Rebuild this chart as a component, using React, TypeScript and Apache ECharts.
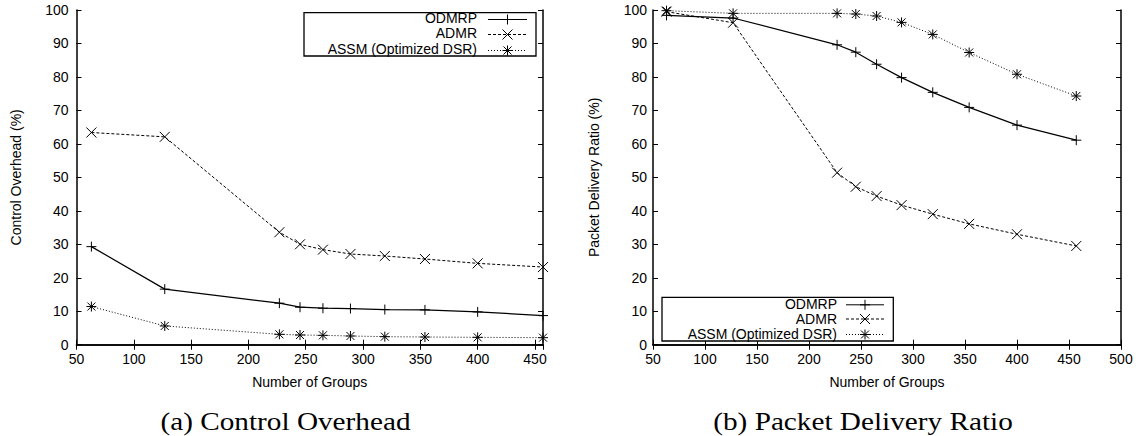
import React, { useEffect, useRef } from "react";
import * as echarts from "echarts";

const groups = [63, 127, 227, 245, 265, 289, 319, 354, 400, 457];
const seriesNames = ["ODMRP", "ADMR", "ASSM (Optimized DSR)"];

const odmrpOverhead = [29.3, 16.6, 12.4, 11.2, 10.9, 10.8, 10.5, 10.4, 9.8, 8.7];
const admrOverhead = [63.4, 62.1, 33.6, 30.0, 28.4, 27.1, 26.5, 25.6, 24.3, 23.2];
const assmOverhead = [11.4, 5.6, 3.1, 2.9, 2.8, 2.6, 2.4, 2.3, 2.2, 2.1];

const odmrpPdr = [98.4, 97.6, 89.6, 87.4, 83.8, 79.8, 75.4, 70.9, 65.6, 61.1];
const admrPdr = [99.5, 96.2, 51.4, 47.2, 44.4, 41.7, 39.0, 36.1, 33.0, 29.5];
const assmPdr = [99.8, 99.0, 99.0, 98.8, 98.2, 96.3, 92.7, 87.3, 80.8, 74.3];

const yTitles = ["Control Overhead (%)", "Packet Delivery Ratio (%)"];
const xTitle = "Number of Groups";
const captions = ["(a) Control Overhead", "(b) Packet Delivery Ratio"];

const SANS = "'Liberation Sans', Arial, Helvetica, sans-serif";
const SERIF = "'Liberation Serif', 'Times New Roman', serif";

const PLUS = "path://M0,5L10,5M5,0L5,10";
const CROSS = "path://M0,0L10,10M10,0L0,10";
const STAR = "path://M0,5L10,5M5,0L5,10M1,1L9,9M9,1L1,9";
const symbols = [PLUS, CROSS, STAR];
const lineTypes: any[] = ["solid", [3, 2], [1, 2]];

function pair(v: number[]) {
  return groups.map((g, i) => [g, v[i]]);
}

function markerLines(kind: number, cx: number, cy: number) {
  const r = 5;
  const st = { stroke: "#000", lineWidth: 1 };
  const segs: number[][] = [];
  if (kind === 0 || kind === 2) {
    segs.push([cx - r, cy, cx + r, cy], [cx, cy - r, cx, cy + r]);
  }
  if (kind === 1) {
    segs.push([cx - r, cy - r, cx + r, cy + r], [cx + r, cy - r, cx - r, cy + r]);
  }
  if (kind === 2) {
    segs.push([cx - 4, cy - 4, cx + 4, cy + 4], [cx + 4, cy - 4, cx - 4, cy + 4]);
  }
  return segs.map((s) => ({
    type: "line",
    shape: { x1: s[0], y1: s[1], x2: s[2], y2: s[3] },
    style: st,
    z: 101,
  }));
}

function legendGraphic(
  box: { x: number; y: number; w: number; h: number },
  textRight: number,
  sx1: number,
  sx2: number,
  textYs: number[],
  lineYs: number[]
) {
  const els: any[] = [
    {
      type: "rect",
      shape: { x: box.x, y: box.y, width: box.w, height: box.h },
      style: { fill: "#fff", stroke: "#000", lineWidth: 1.3 },
      z: 99,
    },
  ];
  seriesNames.forEach((name, i) => {
    els.push({
      type: "text",
      x: textRight,
      y: textYs[i],
      style: {
        text: name,
        fontSize: 14,
        fontFamily: SANS,
        fill: "#000",
        align: "right",
        verticalAlign: "middle",
      },
      z: 100,
    });
    els.push({
      type: "line",
      shape: { x1: sx1, y1: lineYs[i], x2: sx2, y2: lineYs[i] },
      style: { stroke: "#000", lineWidth: 1, lineDash: i === 0 ? null : lineTypes[i] },
      z: 100,
    });
    els.push(...markerLines(i, (sx1 + sx2) / 2, lineYs[i]));
  });
  return els;
}

export default function App() {
  const ref = useRef<HTMLDivElement>(null);

  useEffect(() => {
    if (!ref.current) return;
    const chart = echarts.init(ref.current, undefined, { renderer: "svg" });

    const grids = [
      { left: 76.5, top: 10, width: 466.5, height: 334.7 },
      { left: 653, top: 10, width: 468, height: 334.7 },
    ];
    const xRanges = [
      [50, 457],
      [50, 500],
    ];

    const axisLine = { show: true, lineStyle: { color: "#000", width: 1.5 } };
    const tickIn = { show: true, inside: true, length: 5, lineStyle: { color: "#000", width: 1 } };
    const label = { color: "#000", fontSize: 14, fontFamily: SANS };

    const xAxis: any[] = [];
    const yAxis: any[] = [];
    [0, 1].forEach((g) => {
      const xbase = {
        type: "value",
        gridIndex: g,
        min: xRanges[g][0],
        max: xRanges[g][1],
        interval: 50,
        splitLine: { show: false },
        axisLine,
        axisTick: tickIn,
      };
      xAxis.push({
        ...xbase,
        position: "bottom",
        axisLabel: {
          ...label,
          margin: 7,
          showMaxLabel: g === 1,
          formatter: (v: number) => (v % 50 === 0 ? String(v) : ""),
        },
        name: xTitle,
        nameLocation: "middle",
        nameGap: 30,
        nameTextStyle: { color: "#000", fontSize: 14, fontFamily: SANS },
      });
      xAxis.push({ ...xbase, position: "top", axisLabel: { show: false } });
      const ybase = {
        type: "value",
        gridIndex: g,
        min: 0,
        max: 100,
        interval: 10,
        splitLine: { show: false },
        axisLine,
        axisTick: tickIn,
      };
      yAxis.push({
        ...ybase,
        position: "left",
        axisLabel: { ...label, margin: g === 0 ? 8 : 6 },
        name: yTitles[g],
        nameLocation: "middle",
        nameGap: g === 0 ? 54 : 52,
        nameTextStyle: { color: "#000", fontSize: 14, fontFamily: SANS },
      });
      yAxis.push({ ...ybase, position: "right", axisLabel: { show: false } });
    });

    const dataSets = [
      [odmrpOverhead, admrOverhead, assmOverhead],
      [odmrpPdr, admrPdr, assmPdr],
    ];
    const series: any[] = [];
    dataSets.forEach((sets, g) => {
      sets.forEach((vals, i) => {
        series.push({
          type: "line",
          name: seriesNames[i],
          xAxisIndex: g * 2,
          yAxisIndex: g * 2,
          data: pair(vals),
          symbol: symbols[i],
          symbolSize: 10,
          showAllSymbol: true,
          clip: false,
          itemStyle: { color: "transparent", borderColor: "#000", borderWidth: 1 },
          lineStyle: { color: "#000", width: i === 0 ? 1.2 : 1, type: lineTypes[i] },
          emphasis: { disabled: true },
        });
      });
    });

    const graphic: any[] = [
      ...legendGraphic({ x: 304, y: 12.7, w: 232, h: 43.3 }, 477, 488, 527, [17.5, 33.3, 49.3], [19.5, 34.5, 50.5]),
      ...legendGraphic({ x: 662, y: 297.3, w: 231.3, h: 43.7 }, 837, 846, 884, [304.3, 318.8, 334.3], [304.8, 319, 334.5]),
      {
        type: "text",
        x: 285.5,
        y: 421,
        scaleX: 1.125,
        style: { text: captions[0], fontSize: 26, fontFamily: SERIF, fill: "#000", align: "center", verticalAlign: "middle" },
      },
      {
        type: "text",
        x: 863,
        y: 421,
        scaleX: 1.125,
        style: { text: captions[1], fontSize: 26, fontFamily: SERIF, fill: "#000", align: "center", verticalAlign: "middle" },
      },
    ];

    chart.setOption({
      animation: false,
      backgroundColor: "#fff",
      grid: grids,
      xAxis,
      yAxis,
      series,
      graphic,
    });

    return () => chart.dispose();
  }, []);

  return (
    <div
      ref={ref}
      style={{ position: "fixed", left: 0, top: 0, width: 1145, height: 436, background: "#fff" }}
    />
  );
}
